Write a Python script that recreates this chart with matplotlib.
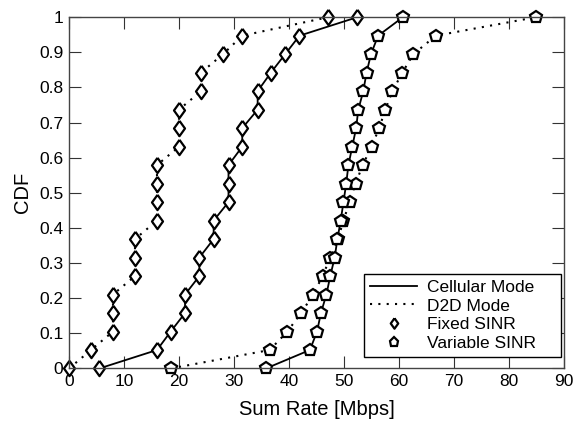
import numpy as np
import matplotlib
matplotlib.use("Agg")
import matplotlib.pyplot as plt
from matplotlib.lines import Line2D

plt.rcParams['font.family'] = ['Liberation Sans', 'DejaVu Sans']

# CDF levels (20 samples per curve)
cdf = np.arange(20) / 19.0

# Sum rate samples [Mbps]
fixed_d2d = [0, 4, 8, 8, 8, 12, 12, 12, 16, 16, 16, 16, 20, 20, 20, 24, 24, 28, 31.5, 47.1]
fixed_cell = [5.5, 16, 18.5, 21.1, 21.1, 23.7, 23.7, 26.3, 26.3, 29, 29, 29,
              31.5, 31.5, 34.3, 34.3, 36.7, 39.3, 41.9, 52.4]
var_cell = [35.8, 43.8, 45.1, 45.8, 46.8, 47.5, 48.3, 48.8, 49.4, 49.9, 50.4, 50.8,
            51.5, 52.2, 52.6, 53.5, 54.1, 54.9, 56.2, 60.7]
var_d2d = [18.5, 36.5, 39.7, 42.2, 44.4, 46.1, 47.5, 48.9, 49.9, 51.0, 52.1, 53.4,
           55.0, 56.4, 57.5, 58.8, 60.6, 62.6, 66.7, 84.9]

xticks = np.arange(0, 91, 10)
yticks = np.round(np.arange(0, 1.01, 0.1), 1)
ytick_labels = ['0'] + ['%.1f' % v for v in yticks[1:-1]] + ['1']

fig = plt.figure(figsize=(5.74, 4.22), dpi=100)
ax = fig.add_axes([0.1202, 0.1268, 0.8624, 0.8324])

# diamond a bit wider than matplotlib's thin 'd'
diamond = [(0, 1), (0.72, 0), (0, -1), (-0.72, 0), (0, 1)]
dotted = (0, (1, 3))
mk = dict(markerfacecolor='white', markeredgecolor='black', markeredgewidth=1.6,
          color='black', clip_on=False)

ax.plot(fixed_d2d, cdf, linestyle=dotted, linewidth=1.5, marker=diamond, markersize=11, **mk)
ax.plot(fixed_cell, cdf, linestyle='-', linewidth=1.3, marker=diamond, markersize=11, **mk)
ax.plot(var_d2d, cdf, linestyle=dotted, linewidth=1.5, marker='p', markersize=9, **mk)
ax.plot(var_cell, cdf, linestyle='-', linewidth=1.3, marker='p', markersize=9, **mk)

ax.set_xlim(0, 90)
ax.set_ylim(0, 1)
ax.set_xticks(xticks)
ax.set_yticks(yticks)
ax.set_yticklabels(ytick_labels)
ax.tick_params(direction='in', length=8.5, width=0.8, top=True, right=True,
               labelsize=12.5, color='#333333', pad=4)
for s in ax.spines.values():
    s.set_color('#444444')
    s.set_linewidth(1.0)

ax.set_xlabel('Sum Rate [Mbps]', fontsize=14.5, labelpad=8)
ax.set_ylabel('CDF', fontsize=14.5, labelpad=5)

handles = [
    Line2D([], [], color='black', linestyle='-', linewidth=1.3),
    Line2D([], [], color='black', linestyle=dotted, linewidth=1.5),
    Line2D([], [], color='black', linestyle='none', marker=diamond, markersize=7.5,
           markerfacecolor='white', markeredgewidth=1.6),
    Line2D([], [], color='black', linestyle='none', marker='p', markersize=6.5,
           markerfacecolor='white', markeredgewidth=1.6),
]
labels = ['Cellular Mode', 'D2D Mode', 'Fixed SINR', 'Variable SINR']
leg = ax.legend(handles, labels, loc='lower left', bbox_to_anchor=(0.596, 0.033, 0.398, 0.236),
                mode='expand', fontsize=12.5, frameon=True, fancybox=False,
                edgecolor='black', framealpha=1, handlelength=2.7, handletextpad=0.6,
                labelspacing=0.2, borderpad=0.35, borderaxespad=0)
leg.get_frame().set_linewidth(1.0)

fig.savefig('out.png', dpi=100)
